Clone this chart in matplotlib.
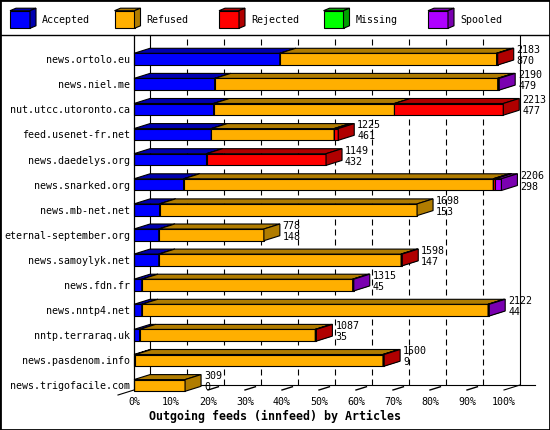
import matplotlib
matplotlib.use("Agg")
import matplotlib.pyplot as plt
from matplotlib.patches import Rectangle, Polygon
from matplotlib.lines import Line2D

# ---------------- data ----------------
hosts = ['news.ortolo.eu', 'news.niel.me', 'nut.utcc.utoronto.ca', 'feed.usenet-fr.net',
         'news.daedelys.org', 'news.snarked.org', 'news.mb-net.net', 'eternal-september.org',
         'news.samoylyk.net', 'news.fdn.fr', 'news.nntp4.net', 'nntp.terraraq.uk',
         'news.pasdenom.info', 'news.trigofacile.com']
offered = [2183, 2190, 2213, 1225, 1149, 2206, 1698, 778, 1598, 1315, 2122, 1087, 1500, 309]
accepted_n = [870, 479, 477, 461, 432, 298, 153, 148, 147, 45, 44, 35, 9, 0]

categories = ['Accepted', 'Refused', 'Rejected', 'Missing', 'Spooled']
accepted_pct = [39.4, 21.8, 21.5, 20.9, 19.6, 13.4, 6.9, 6.7, 6.7, 2.1, 2.1, 1.5, 0.4, 0.0]
refused_pct = [58.6, 76.5, 48.9, 33.2, 0.0, 83.7, 69.6, 28.4, 65.5, 57.0, 93.6, 47.5, 66.9, 13.8]
rejected_pct = [0.3, 0.0, 29.4, 1.1, 32.3, 0.6, 0.0, 0.0, 0.3, 0.0, 0.0, 0.3, 0.3, 0.0]
missing_pct = [0.0] * 14
spooled_pct = [0.0, 0.4, 0.0, 0.0, 0.0, 1.6, 0.0, 0.0, 0.0, 0.3, 0.3, 0.0, 0.0, 0.0]
series = [accepted_pct, refused_pct, rejected_pct, missing_pct, spooled_pct]

xticks = list(range(0, 101, 10))
xlabel = 'Outgoing feeds (innfeed) by Articles'

# ---------------- style ----------------
front_colors = ['#0000ff', '#ffaf00', '#ff0000', '#00ff00', '#af00ff']
dark_colors = ['#0000b0', '#b07c00', '#b00000', '#00a000', '#7a00b0']
MONO = 'DejaVu Sans Mono'
FS = 7.2

W, H = 550, 430
fig = plt.figure(figsize=(W / 100, H / 100), dpi=100)
fig.patch.set_facecolor('white')

# geometry in pixels
x0p, x1p = 134, 504          # front plane 0% and 100%
ytop, ybot = 36, 390         # plot area top / front floor
row0, rowstep = 59.15, 25.1  # center of first bar, step
depth_px, depth_py = 16, 5
half_h_px = 5.85

ax = fig.add_axes([x0p / W, (H - ybot) / H, (x1p - x0p) / W, (ybot - ytop) / H])
ax.set_xlim(0, 100)
i_top = (ytop - row0) / rowstep
i_bot = (ybot - row0) / rowstep
ax.set_ylim(i_bot, i_top)
ax.patch.set_alpha(0)

pxu = (x1p - x0p) / 100.0
DX = depth_px / pxu
DY = -depth_py / rowstep
BH = half_h_px / rowstep

for s in ['top', 'right', 'bottom']:
    ax.spines[s].set_visible(False)
ax.spines['left'].set_linewidth(0.9)
ax.spines['left'].set_zorder(6)

ax.set_yticks(range(len(hosts)))
ax.set_yticklabels(hosts, fontfamily=MONO, fontsize=FS)
ax.tick_params(axis='y', length=0, pad=2.9)
ax.set_xticks(xticks)
ax.set_xticklabels([f'{v}%' for v in xticks], fontfamily=MONO, fontsize=FS)
ax.tick_params(axis='x', length=0, pad=5.0)

lw = 0.8
dash = (0, (6.0 / lw * 0.72, 4.0 / lw * 0.72))
yfloor_back = i_bot + DY

# back wall lines
for v in xticks[1:-1]:
    ax.plot([v + DX, v + DX], [yfloor_back, i_top], color='black', lw=lw, ls=dash,
            clip_on=False, zorder=1)
for v in (0, 100):
    ax.plot([v + DX, v + DX], [yfloor_back, i_top], color='black', lw=lw,
            clip_on=False, zorder=1)
ax.plot([DX, (535 - x0p) / pxu], [yfloor_back, yfloor_back], color='black', lw=lw,
        clip_on=False, zorder=1)
ax.plot([100, 100 + DX], [i_bot, yfloor_back], color='black', lw=lw, clip_on=False, zorder=1)
ax.plot([0, -DX], [i_bot, i_bot - DY], color='black', lw=lw, clip_on=False, zorder=1)
for v in xticks[1:-1]:
    ax.plot([v, v + 0.65 * DX], [i_bot, i_bot + 0.65 * DY], color='black', lw=1.0,
            clip_on=False, zorder=1)

# bars
for i in range(len(hosts)):
    cum = 0.0
    for k, vals in enumerate(series):
        v = vals[i]
        if v <= 0:
            continue
        a, b = cum, cum + v
        yt, yb = i - BH, i + BH
        kw = dict(facecolor=front_colors[k], edgecolor='black', lw=lw, clip_on=False,
                  zorder=3, joinstyle='miter')
        ax.add_patch(Rectangle((a, yt), v, 2 * BH, **kw))
        kw['facecolor'] = dark_colors[k]
        ax.add_patch(Polygon([(a, yt), (b, yt), (b + DX, yt + DY), (a + DX, yt + DY)], **kw))
        ax.add_patch(Polygon([(b, yt), (b + DX, yt + DY), (b + DX, yb + DY), (b, yb)], **kw))
        cum = b
    xl = cum + DX + 0.8
    ax.text(xl, i - 0.36, str(offered[i]), ha='left', va='center', fontfamily=MONO,
            fontsize=FS, zorder=5, clip_on=False)
    ax.text(xl, i + 0.08, str(accepted_n[i]), ha='left', va='center', fontfamily=MONO,
            fontsize=FS, zorder=5, clip_on=False)

fig.text(275 / W, 1 - 416 / H, xlabel, ha='center', va='center', fontfamily=MONO,
         fontsize=8.4, fontweight='bold')

# legend
lax = fig.add_axes([0, (H - 35) / H, 1, 35 / H])
lax.set_xlim(0, W)
lax.set_ylim(35, 0)
lax.axis('off')
for k, name in enumerate(categories):
    lx = 10 + 104.5 * k
    t, b_, w = 10.7, 28.3, 20
    ddx, ddy = 6, -2.5
    kw = dict(edgecolor='black', lw=lw, joinstyle='miter')
    lax.add_patch(Rectangle((lx, t), w, b_ - t, facecolor=front_colors[k], **kw))
    lax.add_patch(Polygon([(lx, t), (lx + w, t), (lx + w + ddx, t + ddy), (lx + ddx, t + ddy)],
                          facecolor=dark_colors[k], **kw))
    lax.add_patch(Polygon([(lx + w, t), (lx + w + ddx, t + ddy), (lx + w + ddx, b_ + ddy),
                           (lx + w, b_)], facecolor=dark_colors[k], **kw))
    lax.text(lx + 32, 20.3, name, ha='left', va='center', fontfamily=MONO, fontsize=FS)

fig.add_artist(Line2D([0, 1], [(H - 35) / H] * 2, color='black', lw=1.0,
                      transform=fig.transFigure))
fig.add_artist(Rectangle((0, 0), 1, 1, transform=fig.transFigure, fill=False,
                         edgecolor='black', lw=2.0))

fig.savefig('out.png', dpi=100, facecolor='white')
